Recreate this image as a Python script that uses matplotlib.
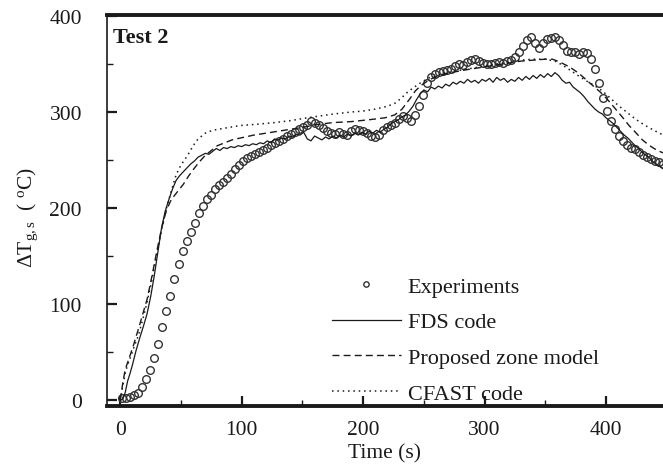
import numpy as np
import matplotlib.pyplot as plt

plt.rcParams['font.family'] = ['Liberation Serif', 'DejaVu Serif']
plt.rcParams['mathtext.fontset'] = 'custom'
plt.rcParams['mathtext.rm'] = 'Liberation Serif'
plt.rcParams['mathtext.it'] = 'Liberation Serif:italic'

# experiments: sampled every 3.3 s starting at 1.7 s
exp_t0 = 1.7
exp_dt = 3.3
exp_temp = [2, 2, 3, 5, 8, 14, 22, 31, 44, 59,
            76, 93, 109, 126, 142, 155, 166, 175, 185, 195,
            202, 209, 214, 220, 224, 227, 231, 236, 241, 245,
            249, 252, 254, 256, 258, 260, 263, 266, 268, 270,
            272, 275, 277, 279, 282, 284, 286, 291, 289, 286,
            283, 280, 278, 277, 279, 277, 276, 280, 282, 281,
            280, 278, 275, 274, 276, 281, 284, 287, 289, 293,
            296, 294, 291, 297, 306, 318, 330, 336, 340, 342,
            343, 344, 345, 348, 350, 349, 352, 354, 355, 353,
            351, 350, 350, 351, 352, 351, 353, 354, 357, 363,
            369, 375, 378, 372, 367, 372, 376, 377, 378, 375,
            370, 364, 363, 362, 360, 362, 361, 355, 345, 330,
            315, 301, 291, 282, 275, 270, 266, 263, 261, 258,
            255, 253, 251, 249, 248, 246]
exp_time = exp_t0 + exp_dt * np.arange(len(exp_temp))

fds_time = [0, 2, 4, 6, 8, 10, 13, 16, 19, 22, 25, 28, 31, 34, 37, 40, 43, 46, 49, 52,
            55, 58, 61, 64, 67, 70, 73, 76, 79, 82, 85, 88, 91, 94, 97, 100, 103, 106, 109, 112,
            115, 118, 121, 124, 127, 130, 133, 136, 139, 142, 145, 148, 151, 154, 157, 160, 163, 166, 169, 172,
            175, 178, 181, 184, 187, 190, 193, 196, 199, 202, 205, 208, 211, 214, 217, 220, 223, 226, 229, 232,
            235, 238, 241, 244, 247, 250, 253, 256, 259, 262, 265, 268, 271, 274, 277, 280, 283, 286, 289, 292,
            295, 298, 301, 304, 307, 310, 313, 316, 319, 322, 325, 328, 331, 334, 337, 340, 343, 346, 349, 352,
            355, 358, 361, 364, 367, 370, 373, 376, 379, 382, 385, 388, 391, 394, 397, 400, 403, 406, 409, 412,
            415, 418, 421, 424, 427, 430, 433, 436, 439, 442, 445, 448, 451]
fds_temp = [0, 1, 8, 20, 28, 37, 52, 65, 77, 90, 108, 130, 155, 180, 197, 209, 220, 229, 234, 238,
            242, 246, 249, 253, 255, 257, 256, 259, 262, 260, 263, 262, 264, 263, 265, 264, 266, 265, 267, 266,
            268, 267, 270, 268, 272, 271, 273, 272, 275, 274, 277, 276, 279, 272, 270, 275, 273, 271, 274, 272,
            275, 273, 276, 274, 277, 275, 278, 276, 279, 277, 280, 278, 281, 279, 282, 284, 288, 290, 292, 295,
            297, 301, 306, 313, 319, 323, 321, 326, 324, 327, 325, 329, 327, 331, 329, 332, 330, 334, 331, 333,
            330, 334, 332, 335, 331, 336, 333, 335, 331, 334, 332, 336, 333, 337, 334, 338, 335, 339, 336, 340,
            337, 341, 338, 333, 330, 331, 326, 323, 320, 316, 311, 307, 303, 300, 298, 294, 291, 288, 284, 280,
            276, 273, 269, 265, 262, 258, 255, 252, 248, 245, 243, 240, 238]

zone_time = [0, 2, 4, 7, 11, 16, 22, 26, 30, 34, 38, 42, 47, 52, 56, 60, 65, 70, 75, 80,
             86, 92, 99, 110, 120, 130, 140, 150, 162, 175, 190, 205, 218, 226, 232, 238, 243, 248, 255, 263,
             272, 285, 300, 315, 330, 340, 350, 356, 362, 370, 378, 386, 396, 402, 408, 414, 419, 425, 430, 436,
             441, 446, 451]
zone_temp = [0, 18, 32, 43, 58, 79, 105, 129, 155, 179, 198, 209, 217, 225, 233, 240, 248, 255, 260, 265,
             268, 271, 273, 276, 278, 280, 282, 284, 287, 289, 290, 292, 294, 297, 303, 313, 322, 328, 334, 338,
             341, 344, 347, 350, 353, 354, 355, 355, 352, 347, 340, 331, 320, 312, 303, 294, 286, 278, 271, 265,
             261, 258, 257]

cfast_time = [0, 2, 4, 6, 9, 12, 15, 18, 22, 26, 30, 34, 38, 42, 46, 50, 55, 60, 64, 70,
              76, 85, 99, 110, 127, 140, 154, 165, 176, 190, 200, 210, 220, 226, 231, 236, 241, 248, 255, 263,
              273, 287, 300, 315, 330, 340, 350, 358, 364, 370, 377, 383, 390, 397, 404, 410, 417, 424, 431, 438,
              444, 451]
cfast_temp = [0, 15, 28, 37, 47, 58, 68, 82, 102, 125, 152, 178, 200, 218, 235, 245, 254, 265, 272, 278,
              281, 283, 286, 287, 289, 291, 294, 296, 298, 300, 301, 303, 306, 309, 314, 320, 325, 331, 336, 339,
              342, 345, 348, 351, 354, 355, 355, 353, 349, 344, 338, 333, 328, 322, 314, 307, 300, 293, 287, 282,
              278, 274]

ink = '#1a1a1a'

fig = plt.figure(figsize=(6.63, 4.77), dpi=100)
ax = fig.add_axes([107 / 663, 1 - 407 / 477, 556 / 663, 391 / 477])

ax.plot(exp_time, exp_temp, 'o', ms=5.5, mfc='none', mec='#333333', mew=1.0, label='Experiments')
ax.plot(fds_time, fds_temp, '-', color=ink, lw=0.9, label='FDS code')
ax.plot(zone_time, zone_temp, '--', color=ink, lw=1.0, dashes=(5, 3), label='Proposed zone model')
ax.plot(cfast_time, cfast_temp, ':', color=ink, lw=1.1, dashes=(1, 2.5), label='CFAST code')

ax.set_xlim(-11, 447)
ax.set_ylim(-6, 401)

ax.set_xticks([0, 100, 200, 300, 400])
ax.set_xticks([50, 150, 250, 350], minor=True)
ax.set_yticks([0, 100, 200, 300, 400])
ax.set_yticks([50, 150, 250, 350], minor=True)
ax.tick_params(axis='both', which='both', direction='in', colors=ink, labelcolor=ink,
               top=False, right=False)
ax.tick_params(axis='both', which='major', length=7, width=1.6, labelsize=15.5)
ax.tick_params(axis='both', which='minor', length=4, width=1.0)
ax.tick_params(axis='y', which='major', pad=18)
ax.tick_params(axis='x', which='major', pad=10)

for side in ['top', 'bottom']:
    ax.spines[side].set_linewidth(2.8)
    ax.spines[side].set_color(ink)
ax.spines['left'].set_linewidth(1.2)
ax.spines['left'].set_color(ink)
ax.spines['right'].set_visible(False)

ax.set_xlabel('Time (s)', fontsize=15.5, color=ink)
ax.set_ylabel(r'$\Delta\mathrm{T}_{\mathrm{g,s}}$  ( $^{\mathrm{o}}$C)', fontsize=15.5, color=ink)
ax.xaxis.set_label_coords(0.5, -0.095)
ax.yaxis.set_label_coords(-0.12, 0.485)

ax.text(0.01, 0.945, 'Test 2', transform=ax.transAxes, fontsize=16, fontweight='bold',
        color=ink, ha='left', va='center')

leg = ax.legend(loc='center left', bbox_to_anchor=(332 / 663, 1 - 341 / 477),
                bbox_transform=fig.transFigure, frameon=False, fontsize=16,
                handlelength=3.1, handletextpad=0.3, labelspacing=0.68, borderpad=0,
                borderaxespad=0, markerscale=0.7)
for txt in leg.get_texts():
    txt.set_color(ink)

fig.savefig('out.png', dpi=100)
